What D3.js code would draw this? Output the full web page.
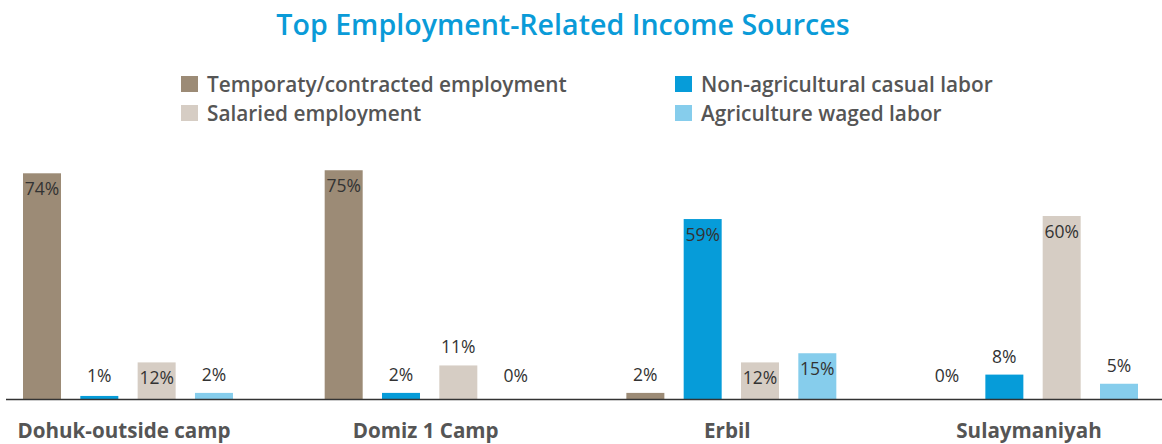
<!DOCTYPE html>
<html><head><meta charset="utf-8">
<script src="https://cdn.jsdelivr.net/npm/d3@7"></script>
<style>body{margin:0;background:#fff}svg{display:block}</style>
</head><body>
<script>
const categories = ["Dohuk-outside camp", "Domiz 1 Camp", "Erbil", "Sulaymaniyah"];
const seriesNames = ["Temporaty/contracted employment", "Non-agricultural casual labor", "Salaried employment", "Agriculture waged labor"];
const temporary = [74, 75, 2, 0];
const nonAgricultural = [1, 2, 59, 8];
const salaried = [12, 11, 12, 60];
const agricultureWaged = [2, 0, 15, 5];
const colors = ["#9c8b76", "#069cd9", "#d6cdc4", "#86cdec"];
const legendOrder = [0, 2, 1, 3];

const values = [temporary, nonAgricultural, salaried, agricultureWaged];
const W = 1162, H = 444;
const svg = d3.select("body").append("svg").attr("width", W).attr("height", H);
const font = "'Open Sans', 'Noto Sans', sans-serif";

svg.append("text").attr("x", 563).attr("y", 35).attr("text-anchor", "middle")
  .attr("font-family", font).attr("font-weight", 600).attr("font-size", 28.6)
  .attr("fill", "#0a9bd8").text("Top Employment-Related Income Sources");

// legend
const legPos = [[181, 76], [181, 105], [675, 76], [675, 105]];
legendOrder.forEach((si, i) => {
  const [lx, ly] = legPos[i];
  svg.append("rect").attr("x", lx).attr("y", ly).attr("width", 17).attr("height", 16).attr("fill", colors[si]);
  svg.append("text").attr("x", lx + 26).attr("y", ly + 16).attr("font-family", font)
    .attr("font-weight", 600).attr("font-size", 20.8).attr("fill", "#555").text(seriesNames[si]);
});

const x0 = d3.scaleBand().domain(categories).range([23, 1138]).paddingInner(0.304).paddingOuter(0);
const x1 = d3.scaleBand().domain(d3.range(seriesNames.length)).range([0, x0.bandwidth()]).paddingInner(0.337).paddingOuter(0);
const y = d3.scaleLinear().domain([0, 100]).range([399, 94]);

const data = [];
categories.forEach((c, ci) => values.forEach((arr, si) => data.push({c, si, v: arr[ci]})));

svg.selectAll("rect.bar").data(data).join("rect").attr("class", "bar")
  .attr("x", d => x0(d.c) + x1(d.si)).attr("width", x1.bandwidth())
  .attr("y", d => y(d.v)).attr("height", d => y(0) - y(d.v)).attr("fill", d => colors[d.si]);

svg.selectAll("text.val").data(data).join("text").attr("class", "val")
  .attr("x", d => x0(d.c) + x1(d.si) + x1.bandwidth() / 2)
  .attr("y", d => d.v >= 12 ? y(d.v) + 22 : Math.min(y(d.v), y(0) - 5) - 12)
  .attr("text-anchor", "middle").attr("font-family", font).attr("font-size", 17.5)
  .attr("fill", "#333").text(d => d.v + "%");

svg.append("line").attr("x1", 6).attr("x2", W).attr("y1", y(0) + 0.5).attr("y2", y(0) + 0.5)
  .attr("stroke", "#333").attr("stroke-width", 1.5);

svg.selectAll("text.cat").data(categories).join("text").attr("class", "cat")
  .attr("x", d => x0(d) + x0.bandwidth() / 2 - 4).attr("y", 438).attr("text-anchor", "middle")
  .attr("font-family", font).attr("font-weight", 700).attr("font-size", 20.6).attr("fill", "#555").text(d => d);
</script>
</body></html>
